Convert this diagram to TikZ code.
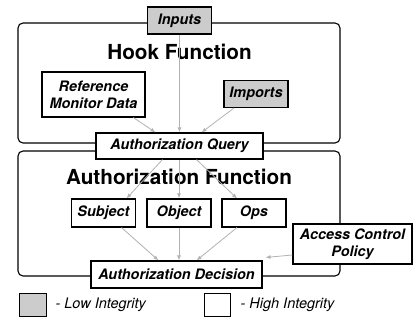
\documentclass[tikz,border=0pt]{standalone}
\usepackage{fontspec}
\setmainfont{TeX Gyre Heros}
\usetikzlibrary{arrows.meta}

\begin{document}
\begin{tikzpicture}[x=1pt, y=-1pt, >={Latex[length=5pt, width=4pt]},
    box/.style={draw, line width=1.1pt, fill=white, minimum width=64pt,
      minimum height=27pt, inner sep=2pt, align=center,
      font=\fontsize{14.4}{17.3}\selectfont\bfseries\itshape},
    low/.style={box, fill=gray!40},
    flow/.style={->, gray!60, line width=0.8pt},
    frame/.style={line width=1.1pt, rounded corners=5pt},
    title/.style={anchor=base, font=\fontsize{20.7}{24}\selectfont\bfseries},
    key/.style={anchor=west, font=\fontsize{14.5}{17}\selectfont\itshape}]
  \useasboundingbox (0,0) rectangle (416,320);

  % Frames
  \draw[frame] (18,23) rectangle (340,143);
  \draw[frame] (18,151) rectangle (340,276);
  \node[title] (hooktitle) at (179.5,60) {Hook Function};
  \node[title] (authtitle) at (179,185) {Authorization Function};

  % Hook function
  \node[low] (inputs) at (179.5,20.5) {Inputs};
  \node[box, minimum width=103pt, minimum height=45pt] (refmon) at (93.5,94.5)
    {Reference\\Monitor Data};
  \node[low] (imports) at (256,94) {Imports};
  \node[box, minimum width=167pt, minimum height=26pt] (query) at (179.5,146)
    {Authorization Query};

  % Authorization function
  \foreach \name/\x/\txt in {subject/103.5/Subject, object/179/Object, ops/254/Ops}
    \node[box, minimum height=28pt] (\name) at (\x,213) {\txt};
  \node[box, minimum width=119pt, minimum height=40pt] (policy) at (352.5,244)
    {Access Control\\Policy};
  \node[box, minimum width=171pt] (decision) at (176.5,274.5)
    {Authorization Decision};

  % Flows
  \draw[flow] (inputs.south) -- (query.north);
  \draw[flow] (refmon.-30) -- ([xshift=-24pt]query.north);
  \draw[flow] ([xshift=-22pt]imports.south) -- ([xshift=22pt]query.north);
  \draw[flow] ([xshift=-17pt]query.south) -- ([xshift=23pt]subject.north);
  \draw[flow] (query.south -| object.north) -- (object.north);
  \draw[flow] ([xshift=17pt]query.south) -- ([xshift=-17pt]ops.north);
  \draw[flow] ([xshift=18pt]subject.south) -- ([xshift=-18pt]decision.north);
  \draw[flow] (object.south) -- (object.south |- decision.north);
  \draw[flow] ([xshift=-17pt]ops.south) -- ([xshift=20pt]decision.north);
  \draw[flow] ([yshift=-11pt]policy.west) -- ([shift={(3pt,3pt)}]decision.north east);

  % Legend
  \node[low, minimum width=27pt, minimum height=23pt, line width=0.8pt] (lowbox) at (32.5,304.5) {};
  \node[key] (lowtext) at (52,305) {- Low Integrity};
  \node[box, minimum width=26pt, minimum height=23pt, line width=0.8pt] (highbox) at (217,304.5) {};
  \node[key] (hightext) at (237,305) {- High Integrity};
\end{tikzpicture}
\end{document}
